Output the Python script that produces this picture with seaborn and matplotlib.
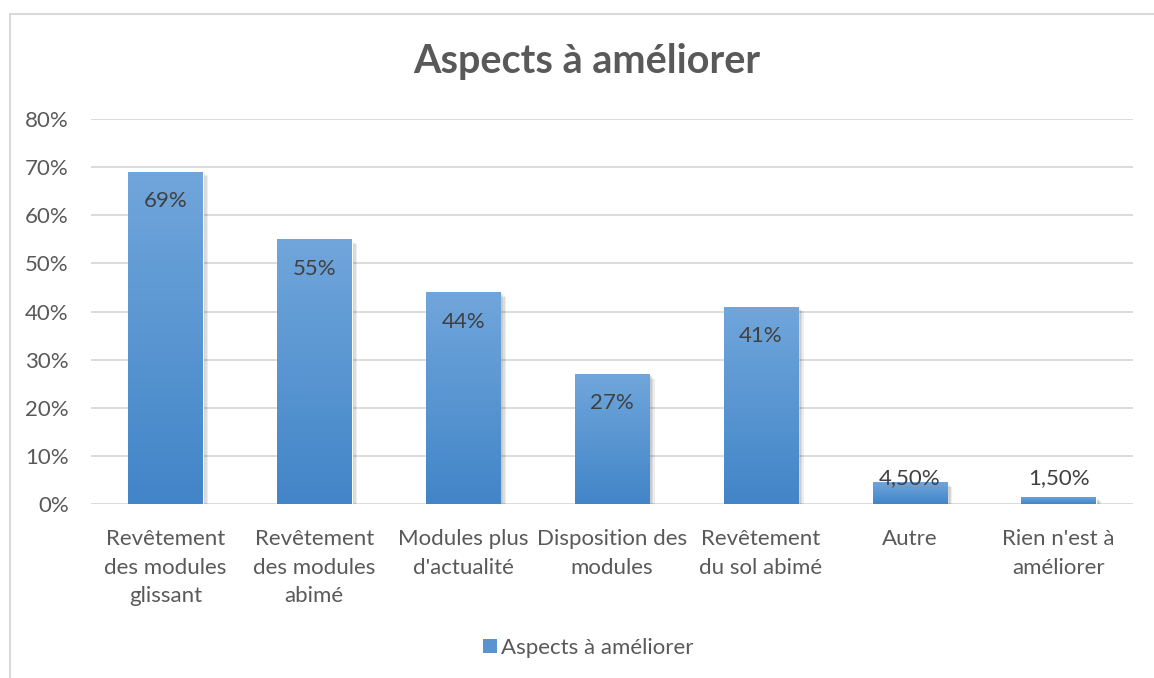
import numpy as np
import pandas as pd
import matplotlib
matplotlib.use("Agg")
import matplotlib.pyplot as plt
import matplotlib.patheffects as pe
from matplotlib.lines import Line2D
import seaborn as sns

categories = ["Revêtement\ndes modules\nglissant", "Revêtement\ndes modules\nabimé",
              "Modules plus\nd'actualité", "Disposition des\nmodules",
              "Revêtement\ndu sol abimé", "Autre", "Rien n'est à\naméliorer"]
values = [69, 55, 44, 27, 41, 4.5, 1.5]
value_labels = ["69%", "55%", "44%", "27%", "41%", "4,50%", "1,50%"]
y_ticks = [0, 10, 20, 30, 40, 50, 60, 70, 80]
y_tick_labels = ["0%", "10%", "20%", "30%", "40%", "50%", "60%", "70%", "80%"]
title = "Aspects à améliorer"
series_name = "Aspects à améliorer"

sns.set_theme(style="white")
plt.rcParams['font.family'] = ['Lato', 'DejaVu Sans']

TXT = "#595959"
GRID = "#d9d9d9"
TOP_C = np.array([0x70, 0xa6, 0xdb]) / 255
BOT_C = np.array([0x42, 0x85, 0xc8]) / 255
FS = 16

fig = plt.figure(figsize=(11.54, 6.78), dpi=100)
ax = fig.add_axes([91/1154, 1-504/678, (1133-91)/1154, (504-119)/678])

df = pd.DataFrame({"cat": categories, "val": values})
sns.barplot(data=df, x="cat", y="val", ax=ax, color=BOT_C, width=0.5,
            saturation=1, zorder=3)

ax.set_ylim(0, 80)
ax.set_xlim(-0.5, len(categories) - 0.5)
ax.set_yticks(y_ticks)
ax.set_yticklabels(y_tick_labels, color=TXT, fontsize=FS)
ax.set_xticks(range(len(categories)))
ax.set_xticklabels(categories, color=TXT, fontsize=FS, linespacing=1.54)
ax.tick_params(axis='y', length=0, pad=16)
ax.tick_params(axis='x', length=0, pad=18)
ax.set_xlabel("")
ax.set_ylabel("")
for s in ax.spines.values():
    s.set_visible(False)
ax.grid(axis='y', color=GRID, linewidth=1.3, zorder=0)
ax.set_axisbelow(True)

# gradient fill + soft shadow
grad = np.linspace(0, 1, 256)[:, None]
cols = (TOP_C[None, :] * (1 - grad) + BOT_C[None, :] * grad)[:, None, :]
shadows = [pe.SimplePatchShadow(offset=(d, -d * 0.8), shadow_rgbFace="#000000", alpha=0.07)
           for d in (1, 2, 3, 4)]
for p in ax.patches:
    x0, y0 = p.get_x(), p.get_y()
    w, h = p.get_width(), p.get_height()
    p.set_path_effects(shadows + [pe.Normal()])
    im = ax.imshow(cols, extent=[x0, x0 + w, y0, y0 + h], aspect='auto',
                   zorder=4, interpolation='bilinear', origin='upper')
    im.set_clip_path(p)

for i, (v, lab) in enumerate(zip(values, value_labels)):
    ypos = max(v - 6.1, 5.4)
    ax.text(i, ypos, lab, ha='center', va='center', color="#404040",
            fontsize=FS, zorder=6)

fig.text(587/1154, 1 - 62/678, title, ha='center', va='center',
         fontsize=28.5, fontweight='bold', color=TXT)

handle = Line2D([], [], marker='s', linestyle='none', markersize=10,
                markerfacecolor=(0.35, 0.58, 0.82), markeredgewidth=0)
fig.legend([handle], [series_name], loc='center', bbox_to_anchor=(587/1154, 1 - 648/678),
           frameon=False, fontsize=FS, labelcolor=TXT, handletextpad=0.1,
           handlelength=0.8)

# chart border
fig.add_artist(Line2D([10/1154, 1.0], [1 - 14/678, 1 - 14/678], color=GRID, lw=1.5,
                      transform=fig.transFigure))
fig.add_artist(Line2D([10/1154, 10/1154], [0, 1 - 14/678], color=GRID, lw=1.5,
                      transform=fig.transFigure))

fig.savefig("out.png", dpi=100, facecolor="white")
